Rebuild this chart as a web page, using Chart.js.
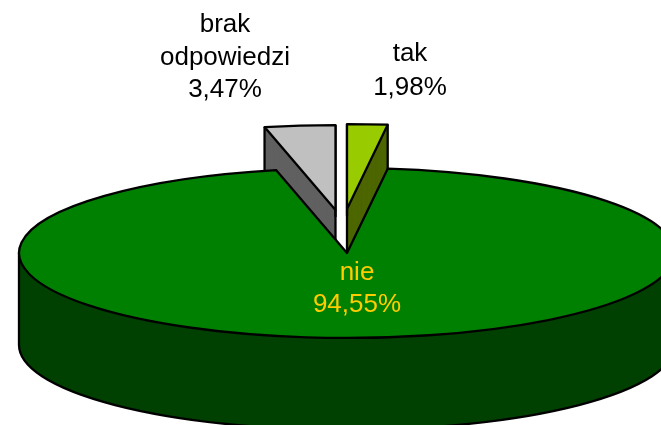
<!DOCTYPE html>
<html>
<head>
<meta charset="utf-8">
<style>html,body{margin:0;padding:0;background:#fff;overflow:hidden}canvas{display:block}</style>
<script src="https://cdn.jsdelivr.net/npm/chart.js@4/dist/chart.umd.js"></script>
</head>
<body>
<canvas id="c" width="661" height="425"></canvas>
<script>
const categories = [['tak'], ['nie'], ['brak', 'odpowiedzi']];
const values = [1.98, 94.55, 3.47];
const topColors = ['#99CC00', '#008000', '#C0C0C0'];
const wallColors = ['#4D6600', '#004000', '#606060'];
const textColors = ['#000000', '#FFCC00', '#000000'];

const squash = 0.259, depth = 92, lineW = 2.3;
const explodeX = [0, 0, -11.5], explodeY = [-44, 0, -43];
const labelX = [410, 357, 225], lastBaseline = [95, 312, 97], lineGap = [34, 32.5, 32.5];

function fillArc(ctx, arc, color) {
  const saved = arc.options;
  arc.options = {backgroundColor: color, borderColor: color, borderWidth: 0, offset: 0, spacing: 0,
    borderAlign: 'center', circular: true, borderRadius: 0, borderJoinStyle: 'miter',
    borderDash: [], borderDashOffset: 0};
  arc.draw(ctx);
  arc.options = saved;
}
function place(ctx, arc, dx, dy) {
  ctx.translate(arc.x + dx, arc.y + dy);
  ctx.scale(1, squash);
  ctx.translate(-arc.x, -arc.y);
}
function layer(ctx, arc, color, dx, dy) {
  ctx.save(); place(ctx, arc, dx, dy); fillArc(ctx, arc, color); ctx.restore();
}
function ink(ctx) {
  ctx.lineWidth = lineW; ctx.strokeStyle = '#000'; ctx.lineJoin = 'round';
  ctx.stroke();
}
function strokeSlice(ctx, arc, dx, dy) {
  ctx.save(); place(ctx, arc, dx, dy);
  ctx.beginPath();
  ctx.moveTo(arc.x, arc.y);
  ctx.arc(arc.x, arc.y, arc.outerRadius, arc.startAngle, arc.endAngle);
  ctx.closePath();
  ctx.restore();
  ink(ctx);
}
function vertical(ctx, x, y) {
  ctx.beginPath(); ctx.moveTo(x, y); ctx.lineTo(x, y + depth);
  ink(ctx);
}
const pie3d = {
  id: 'pie3d',
  beforeDatasetsDraw(chart) {
    const ctx = chart.ctx, arcs = chart.getDatasetMeta(0).data;
    // exploded slices behind the main body
    [0, 2].forEach(i => {
      const a = arcs[i], ox = a.x + explodeX[i], oy = a.y + explodeY[i];
      for (let d = depth; d > 0; d--) layer(ctx, a, wallColors[i], explodeX[i], explodeY[i] + d);
      vertical(ctx, ox, oy);
      [a.startAngle, a.endAngle].forEach(t =>
        vertical(ctx, ox + Math.cos(t) * a.outerRadius, oy + Math.sin(t) * a.outerRadius * squash));
      layer(ctx, a, topColors[i], explodeX[i], explodeY[i]);
      strokeSlice(ctx, a, explodeX[i], explodeY[i]);
    });
    // main body: front wall, then its top
    const m = arcs[1], r = m.outerRadius, ry = r * squash;
    ctx.beginPath();
    ctx.ellipse(m.x, m.y + depth, r, ry, 0, 0, Math.PI);
    ctx.ellipse(m.x, m.y, r, ry, 0, Math.PI, 0, true);
    ctx.closePath();
    ctx.fillStyle = wallColors[1];
    ctx.fill();
    ctx.beginPath();
    ctx.moveTo(m.x + r, m.y);
    ctx.ellipse(m.x, m.y + depth, r, ry, 0, 0, Math.PI);
    ctx.lineTo(m.x - r, m.y);
    ink(ctx);
    layer(ctx, m, topColors[1], 0, 0);
    strokeSlice(ctx, m, 0, 0);
    return false;
  },
  afterDraw(chart) {
    const ctx = chart.ctx;
    ctx.save();
    ctx.font = '26px "Liberation Sans", Arial, sans-serif';
    ctx.textAlign = 'center'; ctx.textBaseline = 'alphabetic';
    categories.forEach((cat, i) => {
      const lines = cat.concat(values[i].toFixed(2).replace('.', ',') + '%');
      ctx.fillStyle = textColors[i];
      lines.forEach((t, j) =>
        ctx.fillText(t, labelX[i], lastBaseline[i] - (lines.length - 1 - j) * lineGap[i]));
    });
    ctx.restore();
  }
};
new Chart(document.getElementById('c'), {
  type: 'pie',
  data: {
    labels: categories.map(c => c.join(' ')),
    datasets: [{data: values, backgroundColor: topColors, borderWidth: 0}]
  },
  options: {
    responsive: false,
    animation: false,
    events: [],
    radius: 328,
    layout: {padding: {left: 33, right: 0, top: 81, bottom: 0}},
    plugins: {legend: {display: false}, tooltip: {enabled: false}}
  },
  plugins: [pie3d]
});
</script>
</body>
</html>
